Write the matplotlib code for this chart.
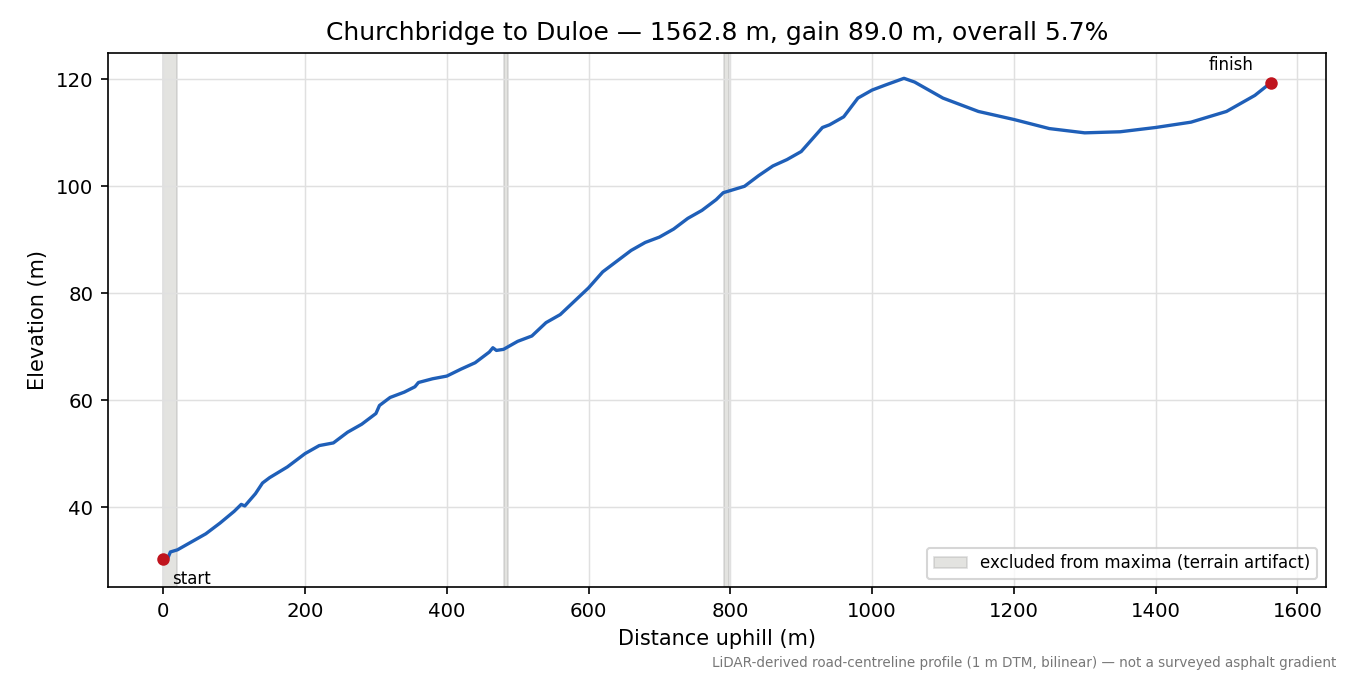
import matplotlib
matplotlib.use("Agg")
import matplotlib.pyplot as plt

dist = [0, 5, 10, 20, 40, 60, 80, 100, 110, 115, 130, 140, 150, 175, 200, 220, 240, 260, 280, 300,
        305, 320, 340, 355, 360, 380, 400, 420, 440, 460, 465, 470, 480, 500, 520, 540, 560, 580, 600,
        620, 640, 660, 680, 700, 720, 740, 760, 780, 790, 800, 820, 840, 860, 880, 900, 920, 930, 940,
        960, 980, 1000, 1020, 1045, 1060, 1080, 1100, 1150, 1200, 1250, 1300, 1350, 1400, 1450, 1500,
        1540, 1562.8]
elev = [30.3, 30.0, 31.6, 32.0, 33.5, 35.0, 37.0, 39.2, 40.5, 40.2, 42.5, 44.5, 45.5, 47.5, 50.0,
        51.5, 52.0, 54.0, 55.5, 57.5, 59.0, 60.5, 61.5, 62.5, 63.3, 64.0, 64.5, 65.8, 67.0, 69.0, 69.8,
        69.3, 69.5, 71.0, 72.0, 74.5, 76.0, 78.5, 81.0, 84.0, 86.0, 88.0, 89.5, 90.5, 92.0, 94.0, 95.5,
        97.5, 98.8, 99.2, 100.0, 102.0, 103.8, 105.0, 106.5, 109.5, 111.0, 111.5, 113.0, 116.5, 118.0,
        119.0, 120.2, 119.5, 118.0, 116.5, 114.0, 112.5, 110.8, 110.0, 110.2, 111.0, 112.0, 114.0,
        117.0, 119.4]
bands = [(0, 19), (480, 486), (791, 798)]

fig, ax = plt.subplots(figsize=(9, 4.5), dpi=150)
for i, (a, b) in enumerate(bands):
    ax.axvspan(a, b, facecolor="#b0b0a8", edgecolor="#a0a0a0", alpha=0.35, lw=0.8,
               label="excluded from maxima (terrain artifact)" if i == 0 else None)
ax.plot(dist, elev, color="#1f5fb8", lw=1.6)
ax.scatter([dist[0], dist[-1]], [elev[0], elev[-1]], color="#c0141e", s=25, zorder=5)
ax.annotate("start", (dist[0], elev[0]), xytext=(4, -12), textcoords="offset points", fontsize=8)
ax.annotate("finish", (dist[-1], elev[-1]), xytext=(-30, 6), textcoords="offset points", fontsize=8)
ax.set_xlim(-78, 1640)
ax.set_ylim(25, 125)
ax.grid(True, color="#e0e0e0", lw=0.7)
ax.set_xlabel("Distance uphill (m)", fontsize=10)
ax.set_ylabel("Elevation (m)", fontsize=10)
ax.set_title("Churchbridge to Duloe — 1562.8 m, gain 89.0 m, overall 5.7%", fontsize=12)
ax.tick_params(labelsize=9.5)
ax.legend(loc="lower right", fontsize=8)
fig.text(0.99, 0.012, "LiDAR-derived road-centreline profile (1 m DTM, bilinear) — not a surveyed asphalt gradient",
         ha="right", fontsize=6.5, color="#777777")
fig.subplots_adjust(left=0.08, right=0.982, top=0.922, bottom=0.13)
fig.savefig("out.png")
